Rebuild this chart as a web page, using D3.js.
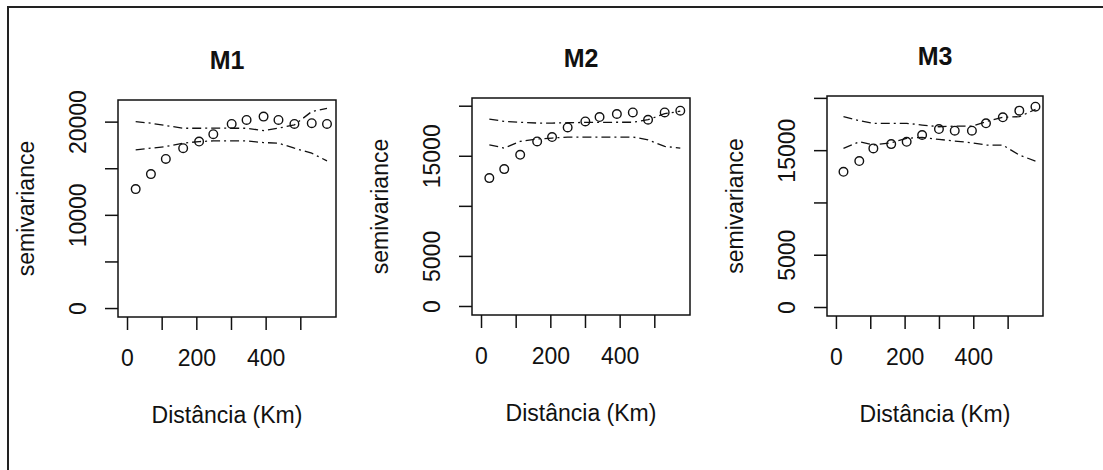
<!DOCTYPE html>
<html>
<head>
<meta charset="UTF-8">
<title>Semivariogramas M1 M2 M3</title>
<script src="https://d3js.org/d3.v7.min.js"></script>
<style>
  body { margin: 0; padding: 0; background: #fff; }
  svg { display: block; }
  text { font-family: "Liberation Sans", Arial, sans-serif; fill: #111; }
</style>
</head>
<body>
<svg id="chart" width="1103" height="470"></svg>
<script>
// distances (km) of the lag classes
const distM1 = [25, 69, 112, 162, 208, 249, 302, 345, 394, 437, 483, 533, 577];
const distM2 = [24, 67, 113, 162, 205, 250, 301, 342, 392, 438, 482, 530, 575];
const distM3 = [22, 68, 109, 161, 206, 251, 300, 346, 396, 437, 486, 534, 581];

// empirical semivariance
const semiM1 = [12760, 14370, 16000, 17150, 17860, 18650, 19750, 20180, 20540, 20180, 19750, 19830, 19750];
const semiM2 = [12770, 13670, 15100, 16430, 16870, 17830, 18430, 18870, 19170, 19330, 18600, 19330, 19500];
const semiM3 = [12930, 13960, 15170, 15580, 15800, 16450, 17020, 16860, 16860, 17570, 18140, 18780, 19160];

// envelopes (upper / lower)
const upperM1 = [20000, 19830, 19580, 19290, 19290, 19300, 19290, 19290, 19040, 19300, 19650, 21080, 21430];
const lowerM1 = [16970, 17150, 17330, 17690, 17860, 17930, 17930, 17930, 17750, 17690, 17150, 16610, 15790];
const upperM2 = [18670, 18430, 18350, 18270, 18270, 18300, 18330, 18330, 18350, 18350, 18600, 19200, 19450];
const lowerM2 = [16100, 15770, 16430, 16670, 16770, 16870, 16870, 16870, 16870, 16870, 16600, 15930, 15770];
const upperM3 = [18200, 17820, 17570, 17570, 17570, 17400, 17240, 17300, 17300, 17720, 18140, 18200, 18900];
const lowerM3 = [15170, 15800, 15490, 15710, 16130, 16220, 16030, 15870, 15710, 15490, 15490, 14530, 13960];

const titles = ["M1", "M2", "M3"];
const xTicks = [0, 100, 200, 300, 400, 500];
const xTickLabels = ["0", "", "200", "", "400", ""];
const yTicks = [0, 5000, 10000, 15000, 20000];
const yTickLabelsM1 = ["0", "", "10000", "", "20000"];
const yTickLabelsM23 = ["0", "5000", "", "15000", ""];

const svg = d3.select("#chart");

// outer frame
svg.append("rect")
  .attr("x", 8).attr("y", 7)
  .attr("width", 1110).attr("height", 480)
  .attr("fill", "none").attr("stroke", "#222").attr("stroke-width", 2);

const panels = [
  {title: titles[0], dist: distM1, semi: semiM1, up: upperM1, lo: lowerM1, labels: yTickLabelsM1,
   left: 118, right: 336, top: 100, bottom: 317, yDom: [-960, 22320]},
  {title: titles[1], dist: distM2, semi: semiM2, up: upperM2, lo: lowerM2, labels: yTickLabelsM23,
   left: 472, right: 690, top: 98, bottom: 315, yDom: [-900, 20770]},
  {title: titles[2], dist: distM3, semi: semiM3, up: upperM3, lo: lowerM3, labels: yTickLabelsM23,
   left: 827, right: 1043, top: 96, bottom: 316, yDom: [-860, 20180]}
];

panels.forEach(p => {
  let x = d3.scaleLinear().domain([-26, 603]).range([p.left, p.right]);
  let y = d3.scaleLinear().domain(p.yDom).range([p.bottom, p.top]);
  let g = svg.append("g");

  // axes
  let xAxis = d3.axisBottom(x).tickValues(xTicks)
    .tickFormat((d, i) => xTickLabels[i]).tickSize(13).tickPadding(20);
  let gx = g.append("g").attr("transform", `translate(0,${p.bottom})`).call(xAxis);
  let yAxis = d3.axisLeft(y).tickValues(yTicks)
    .tickFormat((d, i) => p.labels[i]).tickSize(13);
  let gy = g.append("g").attr("transform", `translate(${p.left},0)`).call(yAxis);

  [gx, gy].forEach(a => {
    a.select(".domain").remove();
    a.selectAll(".tick line").attr("stroke", "#111").attr("stroke-width", 1.5);
    a.selectAll(".tick text").style("font-size", "23px").attr("fill", "#111");
  });
  gx.selectAll(".tick text").attr("dy", "0.71em");
  // y labels run parallel to the axis, as in R
  gy.selectAll(".tick text")
    .attr("x", null).attr("dy", "0")
    .attr("text-anchor", "middle")
    .attr("transform", "translate(-32,0) rotate(-90)");

  // box
  g.append("rect")
    .attr("x", p.left).attr("y", p.top)
    .attr("width", p.right - p.left).attr("height", p.bottom - p.top)
    .attr("fill", "none").attr("stroke", "#111").attr("stroke-width", 1.5);

  // envelopes
  let line = d3.line().x((d, i) => x(p.dist[i])).y(d => y(d));
  [p.up, p.lo].forEach(env => {
    g.append("path")
      .attr("d", line(env))
      .attr("fill", "none").attr("stroke", "#111").attr("stroke-width", 1.3)
      .attr("stroke-dasharray", "9,4,2,4");
  });

  // points
  g.selectAll("circle.pt").data(p.semi).join("circle")
    .attr("class", "pt")
    .attr("cx", (d, i) => x(p.dist[i]))
    .attr("cy", d => y(d))
    .attr("r", 4.3)
    .attr("fill", "none").attr("stroke", "#111").attr("stroke-width", 1.4);

  let cx = (p.left + p.right) / 2;
  // title
  g.append("text")
    .attr("x", cx).attr("y", p.top - 31)
    .attr("text-anchor", "middle")
    .style("font-size", "25px").style("font-weight", "bold")
    .text(p.title);
  // axis titles
  g.append("text")
    .attr("x", cx).attr("y", p.bottom + 106)
    .attr("text-anchor", "middle")
    .style("font-size", "23px")
    .text("Distância (Km)");
  g.append("text")
    .attr("transform", `translate(${p.left - 84},${(p.top + p.bottom) / 2}) rotate(-90)`)
    .attr("text-anchor", "middle")
    .style("font-size", "23px")
    .text("semivariance");
});
</script>
</body>
</html>
